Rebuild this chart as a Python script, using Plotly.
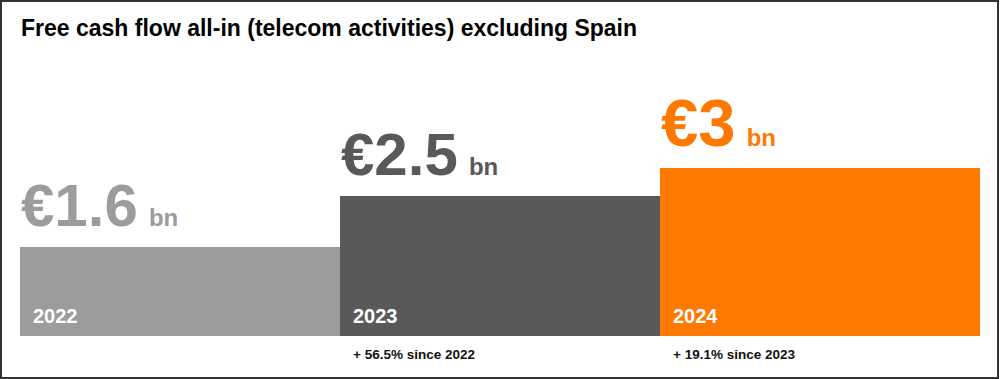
import plotly.graph_objects as go

# ---- data ----
categories = ["2022", "2023", "2024"]
values = [1.6, 2.5, 3.0]
value_labels = ["€1.6", "€2.5", "€3"]
unit_label = "bn"
growth_labels = ["", "+ 56.5% since 2022", "+ 19.1% since 2023"]
title_text = "Free cash flow all-in (telecom activities) excluding Spain"

# ---- style ----
W, H = 1000, 379
colors = ["#9c9c9c", "#595959", "#ff7900"]
big_sizes = [60, 60, 67]
FONT = "Liberation Sans, Arial, Helvetica, sans-serif"
ML, MR, MT, MB = 20, 20, 60, 43
plot_h = H - MT - MB
px_per_unit = 55.9
ymax = plot_h / px_per_unit

fig = go.Figure()
fig.add_trace(go.Bar(
    x=list(range(len(categories))), y=values, width=1.0,
    marker=dict(color=colors, line=dict(width=0)),
    hoverinfo="skip", showlegend=False,
))

annotations = []
for i, (cat, v, lab, g) in enumerate(zip(categories, values, value_labels, growth_labels)):
    annotations.append(dict(
        x=i - 0.5, y=v, xref="x", yref="y", xanchor="left", yanchor="bottom",
        text=(f"<b>{lab}</b><span style='font-size:20px'>&nbsp;&nbsp;</span>"
              f"<span style='font-size:24px'><b>{unit_label}</b></span>"),
        showarrow=False, font=dict(family=FONT, size=big_sizes[i], color=colors[i]),
        yshift=6, xshift=-1,
    ))
    annotations.append(dict(
        x=i - 0.5, y=0, xref="x", yref="y", xanchor="left", yanchor="bottom",
        text=f"<b>{cat}</b>", showarrow=False,
        font=dict(family=FONT, size=20, color="#ffffff"),
        xshift=11, yshift=7,
    ))
    if g:
        annotations.append(dict(
            x=i - 0.5, y=0, xref="x", yref="y", xanchor="left", yanchor="top",
            text=f"<b>{g}</b>", showarrow=False,
            font=dict(family=FONT, size=13.5, color="#111111"),
            xshift=11, yshift=-9,
        ))

# border around the whole image (in paper coords)
pw = W - ML - MR
def px2paper_x(px):
    return (px - ML) / pw
def px2paper_y(py):
    return (H - MB - py) / plot_h

shapes = [dict(
    type="rect", xref="paper", yref="paper",
    x0=px2paper_x(1), x1=px2paper_x(998), y0=px2paper_y(378), y1=px2paper_y(1),
    line=dict(color="#333333", width=2), fillcolor="rgba(0,0,0,0)", layer="above",
)]

fig.update_layout(
    width=W, height=H,
    margin=dict(l=ML, r=MR, t=MT, b=MB, pad=0),
    paper_bgcolor="#ffffff", plot_bgcolor="#ffffff",
    title=dict(
        text=f"<b>{title_text}</b>", xref="container", yref="container",
        x=21 / W, xanchor="left", y=1 - 20 / H, yanchor="top",
        font=dict(family=FONT, size=23, color="#000000"),
    ),
    xaxis=dict(visible=False, range=[-0.5, 2.5], fixedrange=True),
    yaxis=dict(visible=False, range=[0, ymax], fixedrange=True),
    bargap=0,
    annotations=annotations,
    shapes=shapes,
)

fig.write_html(
    "out.html",
    config={"displayModeBar": False},
    post_script="document.body.style.margin='0';document.body.style.overflow='hidden';",
)
